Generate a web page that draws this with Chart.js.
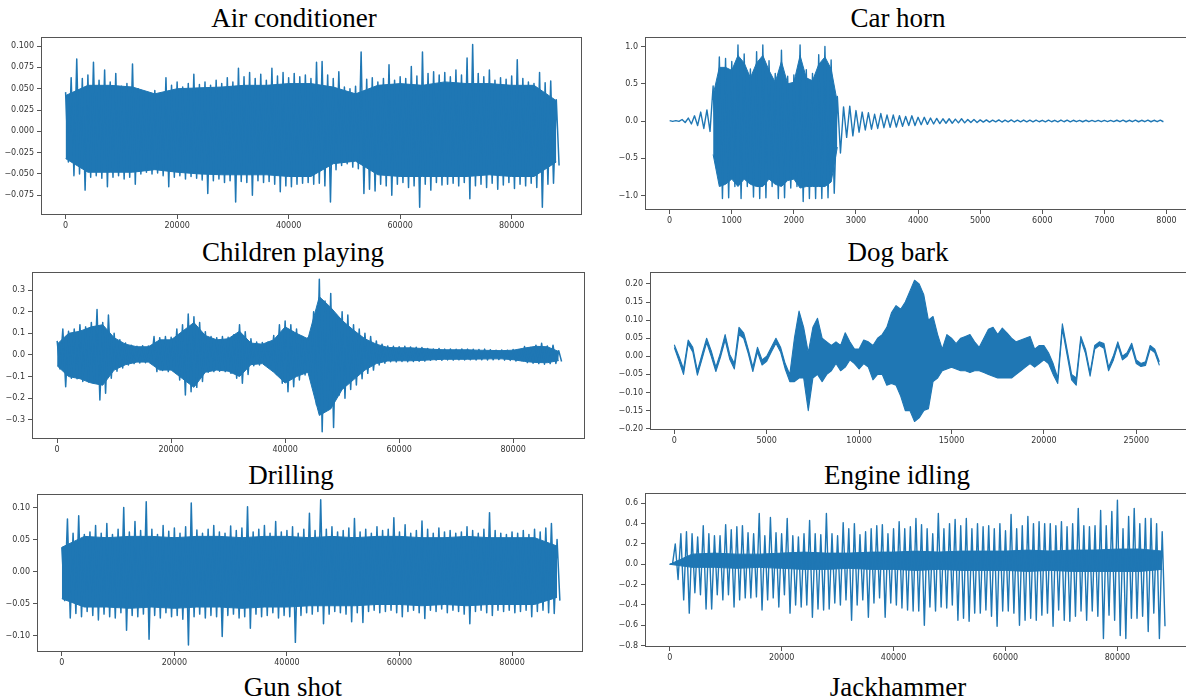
<!DOCTYPE html>
<html>
<head>
<meta charset="utf-8">
<script src="https://cdn.jsdelivr.net/npm/chart.js@4.4.0/dist/chart.umd.min.js"></script>
<style>
html, body { margin: 0; padding: 0; background: #fff; overflow: hidden; width: 1186px; height: 700px; }
.ttl { position: absolute; font-family: 'Liberation Serif', 'Times New Roman', serif; font-size: 27px; line-height: 27px; color: #000; white-space: nowrap; transform: translateX(-50%); }
canvas { position: absolute; }
</style>
</head>
<body>
<div class="ttl" style="left:294px;top:5px">Air conditioner</div>
<div class="ttl" style="left:898px;top:5px">Car horn</div>
<div class="ttl" style="left:293px;top:239px">Children playing</div>
<div class="ttl" style="left:898px;top:239px">Dog bark</div>
<div class="ttl" style="left:291px;top:462px">Drilling</div>
<div class="ttl" style="left:897px;top:462px">Engine idling</div>
<div class="ttl" style="left:293px;top:674px">Gun shot</div>
<div class="ttl" style="left:898px;top:674px">Jackhammer</div>

<canvas id="ac"></canvas>
<canvas id="ch"></canvas>
<canvas id="cp"></canvas>
<canvas id="db"></canvas>
<canvas id="dr"></canvas>
<canvas id="ei"></canvas>

<script>
// ---- data ----
// *Top / *Bot : peak values per step (drawn as spikes)
// *CoreTop / *CoreBot : edge of the solid part of the waveform

// Air conditioner
var acStep = 1000;
var acTop = [0.046,0.063,0.085,0.062,0.066,0.081,0.060,0.072,0.058,0.068,
  0.053,0.056,0.079,0.050,0.045,0.043,0.048,0.044,0.063,0.054,
  0.058,0.052,0.056,0.067,0.055,0.058,0.054,0.060,0.056,0.063,
  0.058,0.074,0.064,0.069,0.062,0.067,0.060,0.074,0.065,0.069,
  0.063,0.068,0.064,0.066,0.062,0.081,0.082,0.066,0.062,0.070,
  0.052,0.050,0.053,0.093,0.061,0.063,0.058,0.062,0.078,0.060,
  0.064,0.062,0.076,0.065,0.093,0.068,0.070,0.066,0.069,0.064,
  0.072,0.066,0.086,0.102,0.068,0.064,0.072,0.060,0.063,0.061,
  0.065,0.084,0.062,0.058,0.056,0.069,0.057,0.059,0.037];
var acBot = [-0.036,-0.052,-0.050,-0.069,-0.054,-0.052,-0.055,-0.065,-0.054,-0.052,
  -0.056,-0.054,-0.062,-0.050,-0.048,-0.050,-0.049,-0.052,-0.065,-0.054,
  -0.052,-0.056,-0.053,-0.055,-0.057,-0.073,-0.058,-0.056,-0.060,-0.058,
  -0.083,-0.059,-0.060,-0.075,-0.058,-0.060,-0.059,-0.062,-0.071,-0.064,
  -0.065,-0.062,-0.061,-0.060,-0.062,-0.061,-0.064,-0.083,-0.045,-0.040,
  -0.038,-0.042,-0.044,-0.073,-0.068,-0.070,-0.062,-0.064,-0.075,-0.062,
  -0.060,-0.066,-0.064,-0.089,-0.062,-0.069,-0.060,-0.063,-0.062,-0.061,
  -0.064,-0.060,-0.079,-0.064,-0.062,-0.066,-0.061,-0.068,-0.063,-0.060,
  -0.067,-0.062,-0.064,-0.061,-0.066,-0.089,-0.062,-0.061,-0.040];
var acCoreStep = 4000;
var acCoreTop = [0.042,0.054,0.054,0.052,0.044,0.050,0.051,0.052,0.054,0.054,0.056,0.056,
  0.052,0.044,0.054,0.056,0.054,0.058,0.056,0.056,0.054,0.054,0.036];
var acCoreBot = [-0.032,-0.048,-0.048,-0.048,-0.045,-0.048,-0.050,-0.051,-0.051,-0.051,-0.053,-0.053,
  -0.038,-0.035,-0.051,-0.053,-0.053,-0.053,-0.053,-0.051,-0.053,-0.053,-0.036];
var acXTicks = [0, 20000, 40000, 60000, 80000];
var acYTicks = [-0.075, -0.05, -0.025, 0, 0.025, 0.05, 0.075, 0.1];

// Car horn
var chStep = 100;
var chTop = [0.005,0.005,0.02,0.04,0.07,0.12,0.15,0.47,0.86,0.84,
  0.80,1.02,0.90,0.70,0.93,1.02,0.81,0.64,0.95,0.60,
  0.62,1.02,0.69,0.64,0.89,1.00,0.82,0.33,0.19,0.20,
  0.14,0.12,0.11,0.09,0.10,0.08,0.08,0.07,0.06,0.07,
  0.05,0.05,0.04,0.035,0.03,0.03,0.025,0.03,0.02,0.02,
  0.015,0.015,0.012,0.015,0.012,0.014,0.012,0.013,0.011,0.012,
  0.010,0.012,0.010,0.013,0.011,0.010,0.009,0.010,0.008,0.009,
  0.008,0.009,0.010,0.011,0.010,0.011,0.010,0.011,0.010,0.011];
var chBot = [-0.005,-0.005,-0.02,-0.04,-0.06,-0.10,-0.14,-0.60,-1.04,-1.03,
  -0.88,-1.04,-0.88,-1.02,-1.04,-1.03,-0.88,-1.04,-1.03,-0.90,
  -0.88,-1.08,-1.04,-1.04,-1.04,-1.03,-0.97,-0.43,-0.22,-0.20,
  -0.15,-0.12,-0.11,-0.10,-0.09,-0.085,-0.08,-0.07,-0.06,-0.06,
  -0.05,-0.045,-0.04,-0.035,-0.03,-0.03,-0.025,-0.025,-0.02,-0.02,
  -0.015,-0.015,-0.012,-0.014,-0.012,-0.013,-0.011,-0.012,-0.011,-0.010,
  -0.011,-0.010,-0.012,-0.010,-0.011,-0.009,-0.010,-0.009,-0.008,-0.009,
  -0.008,-0.008,-0.009,-0.010,-0.009,-0.010,-0.009,-0.010,-0.009,-0.010];
var chCoreStart = 700, chCoreStep = 100;
var chCoreTop = [0.35,0.72,0.72,0.68,0.88,0.78,0.58,0.78,0.88,0.68,0.52,
  0.80,0.50,0.52,0.88,0.58,0.54,0.76,0.86,0.70,0.25];
var chCoreBot = [-0.45,-0.88,-0.85,-0.78,-0.88,-0.78,-0.85,-0.88,-0.88,-0.78,-0.85,
  -0.88,-0.80,-0.78,-0.90,-0.88,-0.88,-0.88,-0.88,-0.82,-0.35];
var chXTicks = [0, 1000, 2000, 3000, 4000, 5000, 6000, 7000, 8000];
var chYTicks = [-1, -0.5, 0, 0.5, 1];

// Children playing
var cpStep = 1000;
var cpTop = [0.065,0.12,0.11,0.12,0.14,0.13,0.15,0.21,0.15,0.185,
  0.10,0.07,0.055,0.045,0.040,0.043,0.042,0.085,0.080,0.085,
  0.082,0.12,0.14,0.19,0.177,0.15,0.108,0.085,0.080,0.085,
  0.082,0.093,0.14,0.108,0.075,0.060,0.058,0.060,0.09,0.14,
  0.157,0.14,0.12,0.085,0.080,0.20,0.35,0.25,0.285,0.185,
  0.20,0.185,0.14,0.12,0.10,0.085,0.065,0.05,0.042,0.040,
  0.038,0.040,0.037,0.036,0.035,0.030,0.028,0.030,0.027,0.028,
  0.026,0.028,0.027,0.026,0.025,0.027,0.024,0.022,0.023,0.022,
  0.025,0.024,0.039,0.035,0.045,0.054,0.042,0.045,0.020];
var cpBot = [-0.065,-0.147,-0.108,-0.11,-0.123,-0.125,-0.13,-0.208,-0.177,-0.108,
  -0.075,-0.060,-0.046,-0.040,-0.037,-0.036,-0.037,-0.077,-0.072,-0.077,
  -0.075,-0.116,-0.185,-0.17,-0.15,-0.123,-0.08,-0.077,-0.075,-0.077,
  -0.085,-0.108,-0.131,-0.09,-0.05,-0.046,-0.045,-0.048,-0.09,-0.131,
  -0.17,-0.147,-0.116,-0.093,-0.093,-0.23,-0.355,-0.247,-0.336,-0.185,
  -0.20,-0.16,-0.139,-0.11,-0.085,-0.07,-0.046,-0.038,-0.031,-0.032,
  -0.030,-0.031,-0.030,-0.029,-0.028,-0.025,-0.024,-0.025,-0.023,-0.024,
  -0.022,-0.023,-0.022,-0.023,-0.022,-0.023,-0.022,-0.021,-0.024,-0.025,
  -0.028,-0.026,-0.035,-0.038,-0.040,-0.043,-0.040,-0.039,-0.030];
var cpCoreStep = 2000;
var cpCoreTop = [0.05,0.10,0.11,0.13,0.14,0.08,0.05,0.038,0.038,0.07,0.07,0.11,0.15,0.09,0.07,
  0.075,0.11,0.055,0.05,0.07,0.13,0.10,0.075,0.27,0.22,0.16,0.115,0.075,0.05,0.035,
  0.033,0.033,0.030,0.026,0.024,0.024,0.024,0.022,0.021,0.020,0.022,0.032,0.040,0.038,0.016];
var cpCoreBot = [-0.05,-0.10,-0.11,-0.13,-0.14,-0.07,-0.045,-0.033,-0.033,-0.07,-0.07,-0.11,-0.15,-0.08,-0.07,
  -0.075,-0.10,-0.045,-0.04,-0.08,-0.13,-0.10,-0.08,-0.28,-0.25,-0.16,-0.115,-0.07,-0.04,-0.028,
  -0.027,-0.027,-0.025,-0.022,-0.020,-0.020,-0.020,-0.019,-0.018,-0.018,-0.022,-0.030,-0.035,-0.036,-0.026];
var cpXTicks = [0, 20000, 40000, 60000, 80000];
var cpYTicks = [-0.3, -0.2, -0.1, 0, 0.1, 0.2, 0.3];

// Dog bark (band between upper and lower trace)
var dbStep = 250;
var dbTop = [0.032,0.0,-0.035,0.045,0.025,-0.04,0.005,0.05,0.015,-0.03,
  0.01,0.06,0.005,-0.02,0.08,0.065,0.02,-0.03,0.025,-0.01,
  0.0,0.025,0.05,0.025,-0.02,-0.05,0.05,0.125,0.08,0.01,
  0.08,0.105,0.05,0.04,0.03,0.04,0.03,0.065,0.04,0.02,
  0.02,0.045,0.04,0.03,0.05,0.06,0.08,0.12,0.14,0.13,
  0.15,0.18,0.21,0.20,0.17,0.10,0.11,0.06,0.02,0.06,
  0.05,0.035,0.05,0.055,0.06,0.04,0.025,0.05,0.075,0.08,
  0.06,0.078,0.065,0.05,0.04,0.045,0.05,0.055,0.02,0.03,
  0.03,0.01,-0.02,-0.06,0.09,0.02,-0.05,-0.06,0.055,0.02,
  -0.045,0.03,0.04,0.035,-0.03,0.0,0.04,0.0,0.01,0.036,
  -0.01,-0.02,-0.015,0.03,0.02,-0.015];
var dbBot = [0.024,-0.012,-0.05,0.035,0.012,-0.052,-0.008,0.038,0.0,-0.042,
  -0.002,0.045,-0.008,-0.035,0.06,0.05,0.008,-0.042,0.012,-0.024,
  -0.014,0.012,0.036,0.012,-0.035,-0.07,-0.07,-0.06,-0.06,-0.15,
  -0.06,-0.05,-0.07,-0.05,-0.04,-0.02,-0.04,-0.03,-0.01,-0.02,
  -0.035,-0.02,-0.03,-0.065,-0.05,-0.05,-0.08,-0.075,-0.08,-0.11,
  -0.15,-0.15,-0.18,-0.17,-0.15,-0.145,-0.07,-0.06,-0.04,-0.035,
  -0.03,-0.035,-0.04,-0.04,-0.045,-0.04,-0.04,-0.045,-0.05,-0.055,
  -0.06,-0.06,-0.06,-0.06,-0.05,-0.04,-0.03,-0.02,-0.03,-0.02,
  -0.01,-0.02,-0.05,-0.075,0.075,0.005,-0.065,-0.08,0.045,0.008,
  -0.055,0.02,0.03,0.022,-0.04,-0.012,0.03,-0.01,0.0,0.025,
  -0.02,-0.028,-0.025,0.02,0.01,-0.025];
var dbXTicks = [0, 5000, 10000, 15000, 20000, 25000];
var dbYTicks = [-0.2, -0.15, -0.1, -0.05, 0, 0.05, 0.1, 0.15, 0.2];

// Drilling
var drStep = 1000;
var drTop = [0.038,0.082,0.060,0.087,0.058,0.062,0.072,0.060,0.075,0.058,
  0.066,0.100,0.062,0.078,0.064,0.109,0.066,0.058,0.072,0.063,
  0.068,0.060,0.070,0.107,0.065,0.060,0.066,0.072,0.062,0.060,
  0.071,0.064,0.068,0.101,0.062,0.066,0.072,0.060,0.078,0.062,
  0.064,0.070,0.060,0.066,0.091,0.064,0.112,0.066,0.070,0.062,
  0.064,0.068,0.083,0.062,0.066,0.060,0.070,0.064,0.066,0.084,
  0.062,0.073,0.060,0.064,0.079,0.066,0.060,0.068,0.062,0.064,
  0.060,0.062,0.070,0.064,0.060,0.066,0.092,0.064,0.060,0.058,
  0.062,0.060,0.064,0.058,0.066,0.062,0.068,0.075,0.050];
var drBot = [-0.045,-0.072,-0.065,-0.070,-0.062,-0.068,-0.075,-0.066,-0.070,-0.072,
  -0.064,-0.091,-0.068,-0.070,-0.066,-0.105,-0.068,-0.072,-0.064,-0.070,
  -0.068,-0.074,-0.114,-0.070,-0.066,-0.072,-0.068,-0.070,-0.101,-0.068,
  -0.066,-0.072,-0.070,-0.088,-0.066,-0.070,-0.068,-0.064,-0.072,-0.068,
  -0.070,-0.110,-0.068,-0.064,-0.066,-0.062,-0.081,-0.066,-0.062,-0.064,
  -0.066,-0.078,-0.064,-0.079,-0.062,-0.060,-0.064,-0.062,-0.060,-0.064,
  -0.070,-0.062,-0.060,-0.064,-0.073,-0.060,-0.062,-0.058,-0.064,-0.060,
  -0.062,-0.066,-0.081,-0.062,-0.060,-0.064,-0.068,-0.060,-0.062,-0.060,
  -0.064,-0.062,-0.060,-0.070,-0.062,-0.060,-0.064,-0.065,-0.045];
var drCoreStep = 4000;
var drCoreTop = [0.038,0.055,0.053,0.055,0.055,0.053,0.055,0.055,0.053,0.055,0.055,0.053,
  0.055,0.053,0.055,0.055,0.053,0.053,0.055,0.053,0.053,0.053,0.040];
var drCoreBot = [-0.042,-0.055,-0.055,-0.057,-0.055,-0.057,-0.055,-0.055,-0.057,-0.055,-0.055,-0.053,
  -0.053,-0.053,-0.051,-0.051,-0.053,-0.051,-0.053,-0.051,-0.051,-0.051,-0.040];
var drXTicks = [0, 20000, 40000, 60000, 80000];
var drYTicks = [-0.1, -0.05, 0, 0.05, 0.1];

// Engine idling: alternating peaks (high, low)
var eiStep = 500;
var eiWave = [0, 0,
  0.20,-0.15, 0.30,-0.35, 0.32,-0.48, 0.30,-0.28, 0.27,-0.30, 0.38,-0.44, 0.30,-0.44, 0.28,-0.30, 0.28,-0.35, 0.39,-0.30,
  0.34,-0.42, 0.37,-0.35, 0.38,-0.33, 0.31,-0.33, 0.30,-0.32, 0.50,-0.45, 0.28,-0.35, 0.46,-0.33, 0.31,-0.42, 0.30,-0.30,
  0.45,-0.48, 0.28,-0.40, 0.27,-0.42, 0.30,-0.40, 0.43,-0.52, 0.30,-0.44, 0.29,-0.45, 0.50,-0.44, 0.30,-0.38, 0.28,-0.40,
  0.41,-0.35, 0.35,-0.55, 0.40,-0.40, 0.29,-0.35, 0.32,-0.52, 0.35,-0.38, 0.38,-0.33, 0.39,-0.52, 0.30,-0.38, 0.35,-0.40,
  0.42,-0.43, 0.35,-0.45, 0.37,-0.46, 0.45,-0.46, 0.39,-0.60, 0.35,-0.42, 0.30,-0.46, 0.50,-0.42, 0.35,-0.43, 0.40,-0.40,
  0.44,-0.55, 0.38,-0.53, 0.45,-0.56, 0.35,-0.48, 0.40,-0.48, 0.37,-0.45, 0.38,-0.51, 0.35,-0.61, 0.40,-0.46, 0.33,-0.46,
  0.49,-0.48, 0.35,-0.60, 0.38,-0.55, 0.47,-0.53, 0.40,-0.55, 0.42,-0.50, 0.40,-0.48, 0.40,-0.61, 0.38,-0.45, 0.42,-0.55,
  0.37,-0.56, 0.40,-0.51, 0.55,-0.46, 0.38,-0.55, 0.37,-0.46, 0.38,-0.51, 0.53,-0.73, 0.38,-0.50, 0.52,-0.55, 0.63,-0.70,
  0.35,-0.73, 0.47,-0.53, 0.55,-0.53, 0.40,-0.51, 0.45,-0.66, 0.45,-0.48, 0.40,-0.73, 0.32,-0.61];
var eiCoreStep = 4000;
var eiCoreTop = [0.0,0.10,0.11,0.10,0.10,0.11,0.12,0.11,0.11,0.12,0.12,0.13,
  0.12,0.13,0.13,0.13,0.14,0.13,0.14,0.14,0.15,0.15,0.13];
var eiCoreBot = [0.0,-0.03,-0.03,-0.04,-0.03,-0.04,-0.05,-0.05,-0.04,-0.05,-0.05,-0.06,
  -0.05,-0.06,-0.06,-0.06,-0.07,-0.06,-0.07,-0.07,-0.07,-0.07,-0.05];
var eiXTicks = [0, 20000, 40000, 60000, 80000];
var eiYTicks = [-0.8, -0.6, -0.4, -0.2, 0, 0.2, 0.4, 0.6];

// ---- drawing ----
var BLUE = '#1f77b4';
var YW = 40, XH = 20;

var framePlugin = {
  id: 'frame',
  afterDraw: function(chart) {
    var a = chart.chartArea, ctx = chart.ctx;
    ctx.save();
    ctx.strokeStyle = '#555';
    ctx.lineWidth = 1;
    ctx.strokeRect(Math.round(a.left) + 0.5, Math.round(a.top) + 0.5,
      Math.round(a.right - a.left) - 1, Math.round(a.bottom - a.top) - 1);
    ctx.restore();
  }
};

function pts(start, step, vals) {
  return vals.map(function(v, i) { return {x: start + i * step, y: v}; });
}

// peaks as a trace: high value, then low value half a step later
function zig(step, top, bot) {
  var out = [];
  for (var i = 0; i < top.length; i++) {
    out.push({x: i * step, y: top[i]});
    out.push({x: i * step + step / 2, y: bot[i]});
  }
  return out;
}

function line(data, w) {
  return {data: data, borderColor: BLUE, backgroundColor: BLUE, borderWidth: w, pointRadius: 0, fill: false, tension: 0};
}

function band(start, step, top, bot, w) {
  var a = line(pts(start, step, top), w);
  a.fill = '+1';
  return [a, line(pts(start, step, bot), w)];
}

function fmtY(dec) {
  return function(v) { return v.toFixed(dec).replace('-', '\u2212'); };
}

// box = [left, top, right, bottom] of the plot frame in page pixels
function panel(id, box, xr, yr, xTicks, yTicks, dec, datasets) {
  var cv = document.getElementById(id);
  cv.width = box[2] - box[0] + YW;
  cv.height = box[3] - box[1] + XH;
  cv.style.left = (box[0] - YW) + 'px';
  cv.style.top = box[1] + 'px';
  var tickFont = {family: 'DejaVu Sans', size: 8};
  new Chart(cv, {
    type: 'line',
    data: {datasets: datasets},
    plugins: [framePlugin],
    options: {
      responsive: false, animation: false, events: [],
      layout: {padding: 0},
      plugins: {legend: {display: false}, tooltip: {enabled: false}},
      elements: {line: {borderJoinStyle: 'round'}},
      scales: {
        x: {
          type: 'linear', min: xr[0], max: xr[1],
          afterBuildTicks: function(s) { s.ticks = xTicks.map(function(v) { return {value: v}; }); },
          afterFit: function(s) { s.height = XH; s.paddingLeft = 0; s.paddingRight = 0; },
          grid: {display: true, drawOnChartArea: false, drawTicks: true, tickLength: 4, color: '#555'},
          border: {display: false},
          ticks: {font: tickFont, color: '#333', padding: 2, maxRotation: 0, autoSkip: false,
            callback: function(v) { return String(v); }}
        },
        y: {
          type: 'linear', min: yr[0], max: yr[1],
          afterBuildTicks: function(s) { s.ticks = yTicks.map(function(v) { return {value: v}; }); },
          afterFit: function(s) { s.width = YW; s.paddingTop = 0; s.paddingBottom = 0; },
          grid: {display: true, drawOnChartArea: false, drawTicks: true, tickLength: 4, color: '#555'},
          border: {display: false},
          ticks: {font: tickFont, color: '#333', padding: 3, autoSkip: false, callback: fmtY(dec)}
        }
      }
    }
  });
}

panel('ac', [41, 37, 582, 215], [-4410, 92610], [-0.0982, 0.1107], acXTicks, acYTicks, 3,
  [line(zig(acStep, acTop, acBot), 1.5)].concat(band(0, acCoreStep, acCoreTop, acCoreBot, 1)));
panel('ch', [645, 37, 1188, 210], [-397, 8346], [-1.195, 1.128], chXTicks, chYTicks, 1,
  [line(zig(chStep, chTop, chBot), 1.4)].concat(band(chCoreStart, chCoreStep, chCoreTop, chCoreBot, 1)));
panel('cp', [32, 272, 585, 439], [-4410, 92610], [-0.389, 0.384], cpXTicks, cpYTicks, 1,
  [line(zig(cpStep, cpTop, cpBot), 1.5)].concat(band(0, cpCoreStep, cpCoreTop, cpCoreBot, 1)));
panel('db', [650, 272, 1188, 430], [-1315, 27798], [-0.2036, 0.2329], dbXTicks, dbYTicks, 2,
  band(0, dbStep, dbTop, dbBot, 1.1));
panel('dr', [37, 494, 583, 652], [-4410, 92610], [-0.125, 0.121], drXTicks, drYTicks, 2,
  [line(zig(drStep, drTop, drBot), 1.5)].concat(band(0, drCoreStep, drCoreTop, drCoreBot, 1)));
panel('ei', [645, 493, 1188, 647], [-4410, 92610], [-0.813, 0.701], eiXTicks, eiYTicks, 1,
  [line(pts(0, eiStep, eiWave), 1.4)].concat(band(0, eiCoreStep, eiCoreTop, eiCoreBot, 1)));
</script>
</body>
</html>
